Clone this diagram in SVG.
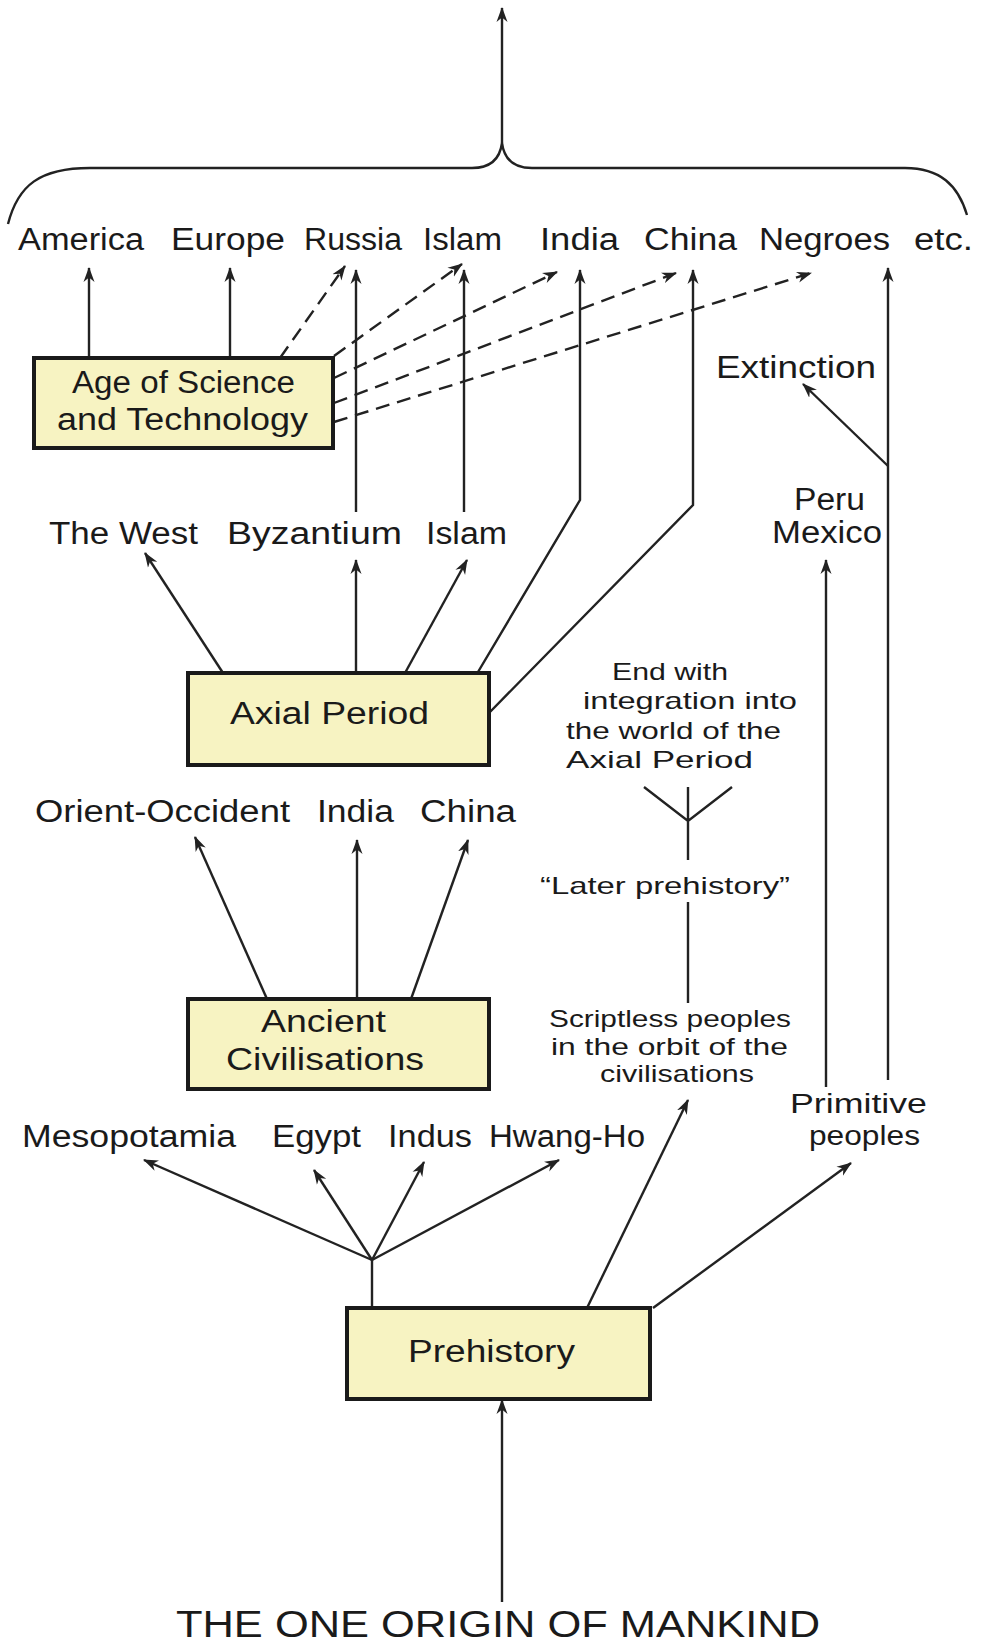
<svg xmlns="http://www.w3.org/2000/svg" width="985" height="1646" viewBox="0 0 985 1646">
<defs>
<style>
.t{font-family:"Liberation Sans","DejaVu Sans",sans-serif;fill:#1a1a1a;font-size:31px}
.s{font-size:24px}
.m{font-size:27px}
.big{font-size:37px}
.box{fill:#f7f3c2;stroke:#1a1a1a;stroke-width:4}
.ln{fill:none;stroke:#222;stroke-width:2.4}
.ar{marker-end:url(#ah)}
.da{stroke-dasharray:14 8}
</style>
<marker id="ah" markerUnits="userSpaceOnUse" markerWidth="16" markerHeight="12" refX="14" refY="6" orient="auto">
<path d="M0,0.5 L15,6 L0,11.5 L4.5,6 Z" fill="#222"/>
</marker>
</defs>
<rect width="985" height="1646" fill="#fff"/>

<g id="connectors">
<path class="ln" d="M8 224 C18 185 40 168 90 168 L472 168 C492 168 500 158 502 143 C504 158 512 168 532 168 L905 168 C940 168 958 185 967 215"/>
<path class="ln ar" d="M502 143 L502 8"/>
<path class="ln ar" d="M89 358 L89 268"/>
<path class="ln ar" d="M230 358 L230 268"/>
<path class="ln ar" d="M356 512 L356 270"/>
<path class="ln ar" d="M464 512 L464 270"/>
<path class="ln ar" d="M478 672 L580 500 L580 270"/>
<path class="ln ar" d="M489 713 L693 505 L693 270"/>
<path class="ln ar" d="M888 1080 L888 268"/>
<path class="ln ar" d="M888 466 L803 384"/>
<path class="ln ar" d="M826 1087 L826 560"/>
<path class="ln da ar" d="M280 358 L345 266"/>
<path class="ln da ar" d="M334 356 L462 264"/>
<path class="ln da ar" d="M334 378 L557 272"/>
<path class="ln da ar" d="M334 403 L676 273"/>
<path class="ln da ar" d="M334 422 L811 273"/>
<path class="ln ar" d="M223 673 L145 553"/>
<path class="ln ar" d="M356 673 L356 560"/>
<path class="ln ar" d="M405 673 L467 560"/>
<path class="ln ar" d="M267 999 L195 837"/>
<path class="ln ar" d="M357 999 L357 840"/>
<path class="ln ar" d="M411 999 L468 840"/>
<path class="ln" d="M644 787 L688 821 L732 787 M688 787 L688 860"/>
<path class="ln" d="M688 1003 L688 902"/>
<path class="ln" d="M372 1308 L372 1260"/>
<path class="ln ar" d="M372 1260 L144 1160"/>
<path class="ln ar" d="M372 1260 L314 1170"/>
<path class="ln ar" d="M372 1260 L424 1162"/>
<path class="ln ar" d="M372 1260 L559 1160"/>
<path class="ln ar" d="M587 1308 L688 1100"/>
<path class="ln ar" d="M653 1308 L851 1163"/>
<path class="ln ar" d="M502 1602 L502 1400"/>
</g>

<g id="age">
<rect class="box" x="34" y="358" width="299" height="90"/>
<text class="t" x="72" y="393" textLength="223" lengthAdjust="spacingAndGlyphs">Age of Science</text>
<text class="t" x="57" y="430" textLength="251" lengthAdjust="spacingAndGlyphs">and Technology</text>
</g>
<g id="axial">
<rect class="box" x="188" y="673" width="301" height="92"/>
<text class="t" x="230" y="724" textLength="199" lengthAdjust="spacingAndGlyphs">Axial Period</text>
</g>
<g id="ancient">
<rect class="box" x="188" y="999" width="301" height="90"/>
<text class="t" x="261" y="1032" textLength="125" lengthAdjust="spacingAndGlyphs">Ancient</text>
<text class="t" x="226" y="1070" textLength="198" lengthAdjust="spacingAndGlyphs">Civilisations</text>
</g>
<g id="prehistory">
<rect class="box" x="347" y="1308" width="303" height="91"/>
<text class="t" x="408" y="1362" textLength="167" lengthAdjust="spacingAndGlyphs">Prehistory</text>
</g>

<g id="top-row">
<text class="t" x="18" y="250" textLength="126" lengthAdjust="spacingAndGlyphs">America</text>
<text class="t" x="171" y="250" textLength="114" lengthAdjust="spacingAndGlyphs">Europe</text>
<text class="t" x="304" y="250" textLength="98" lengthAdjust="spacingAndGlyphs">Russia</text>
<text class="t" x="423" y="250" textLength="79" lengthAdjust="spacingAndGlyphs">Islam</text>
<text class="t" x="540" y="250" textLength="79" lengthAdjust="spacingAndGlyphs">India</text>
<text class="t" x="644" y="250" textLength="93" lengthAdjust="spacingAndGlyphs">China</text>
<text class="t" x="759" y="250" textLength="131" lengthAdjust="spacingAndGlyphs">Negroes</text>
<text class="t" x="914" y="250" textLength="59" lengthAdjust="spacingAndGlyphs">etc.</text>
</g>
<g id="extinction">
<text class="t" x="716" y="378" textLength="160" lengthAdjust="spacingAndGlyphs">Extinction</text>
</g>
<g id="axial-row">
<text class="t" x="49" y="544" textLength="149" lengthAdjust="spacingAndGlyphs">The West</text>
<text class="t" x="227" y="544" textLength="175" lengthAdjust="spacingAndGlyphs">Byzantium</text>
<text class="t" x="426" y="544" textLength="81" lengthAdjust="spacingAndGlyphs">Islam</text>
</g>
<g id="peru-mexico">
<text class="t" x="794" y="510" textLength="71" lengthAdjust="spacingAndGlyphs">Peru</text>
<text class="t" x="772" y="543" textLength="110" lengthAdjust="spacingAndGlyphs">Mexico</text>
</g>
<g id="end-with">
<text class="t s" x="612" y="680" textLength="116" lengthAdjust="spacingAndGlyphs">End with</text>
<text class="t s" x="583" y="709" textLength="214" lengthAdjust="spacingAndGlyphs">integration into</text>
<text class="t s" x="566" y="739" textLength="215" lengthAdjust="spacingAndGlyphs">the world of the</text>
<text class="t s" x="566" y="768" textLength="187" lengthAdjust="spacingAndGlyphs">Axial Period</text>
</g>
<g id="later-prehistory">
<text class="t s" x="540" y="894" textLength="250" lengthAdjust="spacingAndGlyphs">“Later prehistory”</text>
</g>
<g id="ancient-row">
<text class="t" x="35" y="822" textLength="255" lengthAdjust="spacingAndGlyphs">Orient-Occident</text>
<text class="t" x="317" y="822" textLength="77" lengthAdjust="spacingAndGlyphs">India</text>
<text class="t" x="420" y="822" textLength="96" lengthAdjust="spacingAndGlyphs">China</text>
</g>
<g id="scriptless">
<text class="t s" x="549" y="1027" textLength="242" lengthAdjust="spacingAndGlyphs">Scriptless peoples</text>
<text class="t s" x="551" y="1055" textLength="237" lengthAdjust="spacingAndGlyphs">in the orbit of the</text>
<text class="t s" x="600" y="1082" textLength="154" lengthAdjust="spacingAndGlyphs">civilisations</text>
</g>
<g id="primitive">
<text class="t m" x="790" y="1113" textLength="137" lengthAdjust="spacingAndGlyphs">Primitive</text>
<text class="t m" x="809" y="1145" textLength="111" lengthAdjust="spacingAndGlyphs">peoples</text>
</g>
<g id="river-row">
<text class="t" x="22" y="1147" textLength="214" lengthAdjust="spacingAndGlyphs">Mesopotamia</text>
<text class="t" x="272" y="1147" textLength="89" lengthAdjust="spacingAndGlyphs">Egypt</text>
<text class="t" x="388" y="1147" textLength="84" lengthAdjust="spacingAndGlyphs">Indus</text>
<text class="t" x="489" y="1147" textLength="156" lengthAdjust="spacingAndGlyphs">Hwang-Ho</text>
</g>
<g id="origin">
<text class="t big" x="176" y="1637" textLength="644" lengthAdjust="spacingAndGlyphs">THE ONE ORIGIN OF MANKIND</text>
</g>
</svg>
